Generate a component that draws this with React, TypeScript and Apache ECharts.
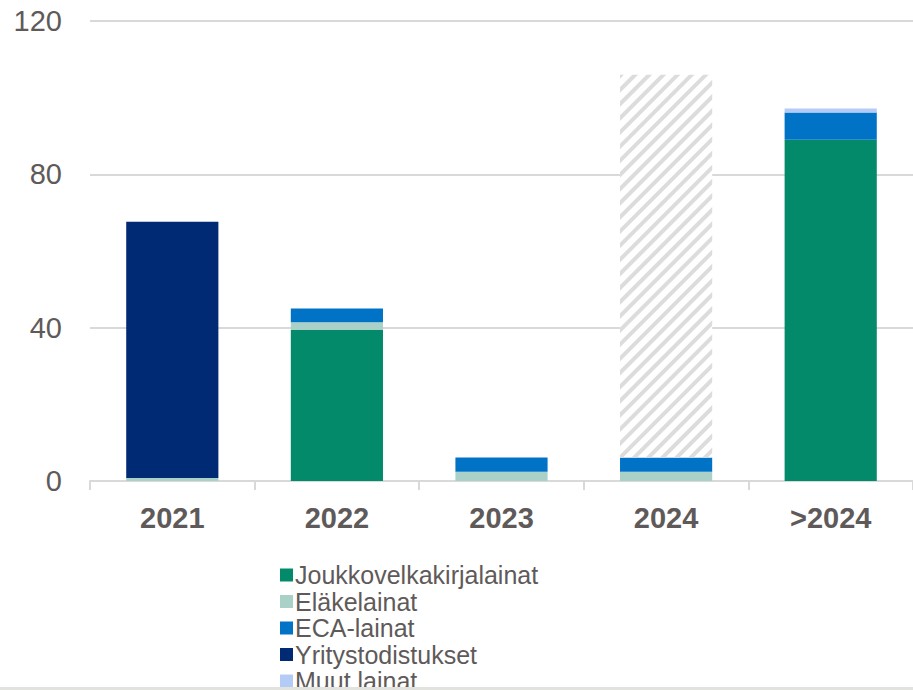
import React, { useEffect, useRef } from "react";
import * as echarts from "echarts";

const categories = ["2021", "2022", "2023", "2024", ">2024"];
const joukkovelkakirjalainat = [0, 39.4, 0, 0, 89.0];
const elakelainat = [0.8, 2.0, 2.4, 2.4, 0];
const ecaLainat = [0, 3.6, 3.7, 3.7, 7.1];
const yritystodistukset = [66.8, 0, 0, 0, 0];
const muutLainat = [0, 0, 0, 0, 1.1];
const arvio = [0, 0, 0, 99.9, 0];
const yTicks = [0, 40, 80, 120];

const FONT = "Arial, 'Liberation Sans', sans-serif";
const TEXT = "#5f5a5a";
const CHART_H = 730;

export default function App() {
  const ref = useRef<HTMLDivElement>(null);
  useEffect(() => {
    document.body.style.margin = "0";
    const chart = echarts.init(ref.current!, null, { renderer: "svg" });
    const mk = (name: string, data: number[], color: string) => ({
      name,
      type: "bar",
      stack: "total",
      data,
      barCategoryGap: "44%",
      itemStyle: { color },
      emphasis: { disabled: true },
    });
    chart.setOption({
      animation: false,
      textStyle: { fontFamily: FONT },
      grid: { left: 90, right: 0, top: 21, bottom: CHART_H - 481, containLabel: false },
      legend: {
        orient: "vertical",
        left: 280,
        top: 562,
        padding: 0,
        itemWidth: 13,
        itemHeight: 13,
        itemGap: 0.5,
        icon: "rect",
        data: ["Joukkovelkakirjalainat", "Eläkelainat", "ECA-lainat", "Yritystodistukset", "Muut lainat"],
        textStyle: { fontSize: 25, color: TEXT, fontFamily: FONT, padding: [0, 0, 0, -3], lineHeight: 26 },
      },
      xAxis: {
        type: "category",
        data: categories,
        axisLine: { lineStyle: { color: "#d9d9d9", width: 2 } },
        axisTick: { show: true, length: 9, lineStyle: { color: "#d9d9d9", width: 2 } },
        axisLabel: { fontSize: 29, fontWeight: "bold", color: TEXT, margin: 22, fontFamily: FONT },
      },
      yAxis: {
        type: "value",
        min: yTicks[0],
        max: yTicks[yTicks.length - 1],
        interval: 40,
        axisLine: { show: false },
        axisTick: { show: false },
        splitLine: { lineStyle: { color: "#d9d9d9", width: 2 } },
        axisLabel: { fontSize: 29, color: TEXT, margin: 28, fontFamily: FONT },
      },
      graphic: [
        { type: "rect", shape: { x: 0, y: 687, width: 913, height: 40 }, style: { fill: "#e2e2de" }, z: 100 },
      ],
      series: [
        mk("Joukkovelkakirjalainat", joukkovelkakirjalainat, "#038a6a"),
        mk("Eläkelainat", elakelainat, "#a9d1c8"),
        mk("ECA-lainat", ecaLainat, "#0073c6"),
        mk("Yritystodistukset", yritystodistukset, "#002a74"),
        mk("Muut lainat", muutLainat, "#b4ccf5"),
        {
          name: "Arvio",
          type: "bar",
          stack: "total",
          data: arvio,
          barCategoryGap: "44%",
          emphasis: { disabled: true },
          itemStyle: {
            color: "#ffffff",
            decal: {
              symbol: "rect",
              color: "#dcdcdc",
              dashArrayX: [1, 0],
              dashArrayY: [4, 6],
              rotation: -Math.PI / 4,
              symbolSize: 1,
            },
          },
        },
      ],
    });
    return () => chart.dispose();
  }, []);
  return (
    <div style={{ width: 913, height: 690, position: "absolute", left: 0, top: 0, overflow: "hidden" }}>
      <div ref={ref} style={{ width: 913, height: CHART_H }} />
    </div>
  );
}
